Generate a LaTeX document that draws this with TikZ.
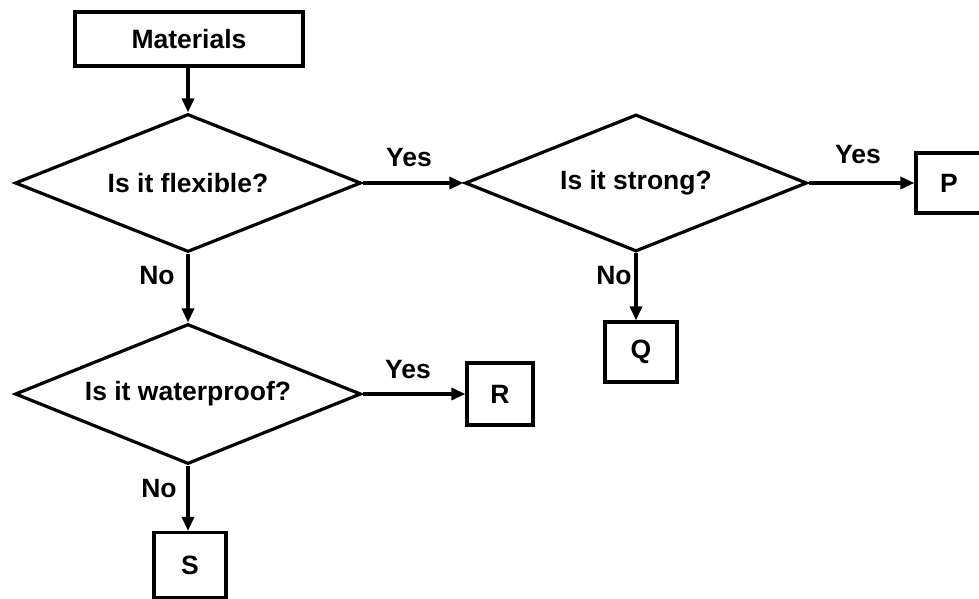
\documentclass[tikz,border=0pt]{standalone}
\usepackage{fontspec}
\setmainfont{Liberation Sans}
\usetikzlibrary{shapes.geometric,arrows.meta}
\tikzset{
  every node/.style={font=\fontsize{26.5}{31}\selectfont\bfseries},
  box/.style={draw,line width=3.2pt,rectangle,inner sep=0pt},
  decision/.style={draw,line width=3.2pt,diamond,inner sep=0pt,aspect=2.5},
  flow/.style={line width=3.2pt,-{Triangle[length=14pt,width=12pt]}},
  lbl/.style={inner sep=0pt}
}
\begin{document}
\begin{tikzpicture}[x=1pt,y=-1pt]
\useasboundingbox[fill=white] (0,0) rectangle (979,598);
% boxes
\node[box,minimum width=228pt,minimum height=54pt] (mat) at (189,39) {Materials};
\node[decision,minimum width=346pt,minimum height=138pt] (d1) at (188,183) {Is it flexible?};
\node[decision,minimum width=342pt,minimum height=137pt] (d2) at (636,183) {Is it strong?};
\node[decision,minimum width=346pt,minimum height=140pt] (d3) at (188,394) {Is it waterproof?};
\node[box,minimum width=66pt,minimum height=60pt] (P) at (949,183) {P};
\node[box,minimum width=72pt,minimum height=60pt] (Q) at (641,352) {Q};
\node[box,minimum width=66pt,minimum height=62pt] (R) at (500,394) {R};
\node[box,minimum width=72pt,minimum height=65pt] (S) at (190,565) {S};
% connectors
\draw[flow] (mat.south -| d1.north) -- (d1.north);
\draw[flow] (d1.east) -- (d2.west);
\draw[flow] (d2.east) -- (P.west);
\draw[flow] (d2.south) -- (d2.south |- Q.north);
\draw[flow] (d1.south) -- (d3.north);
\draw[flow] (d3.east) -- (R.west);
\draw[flow] (d3.south) -- (d3.south |- S.north);
% labels
\node[lbl] (y1) at (409,158) {Yes};
\node[lbl] (y2) at (858,155) {Yes};
\node[lbl] (y3) at (408,370) {Yes};
\node[lbl] (n1) at (157,276) {No};
\node[lbl] (n2) at (614,276) {No};
\node[lbl] (n3) at (159,489) {No};
\end{tikzpicture}
\end{document}
